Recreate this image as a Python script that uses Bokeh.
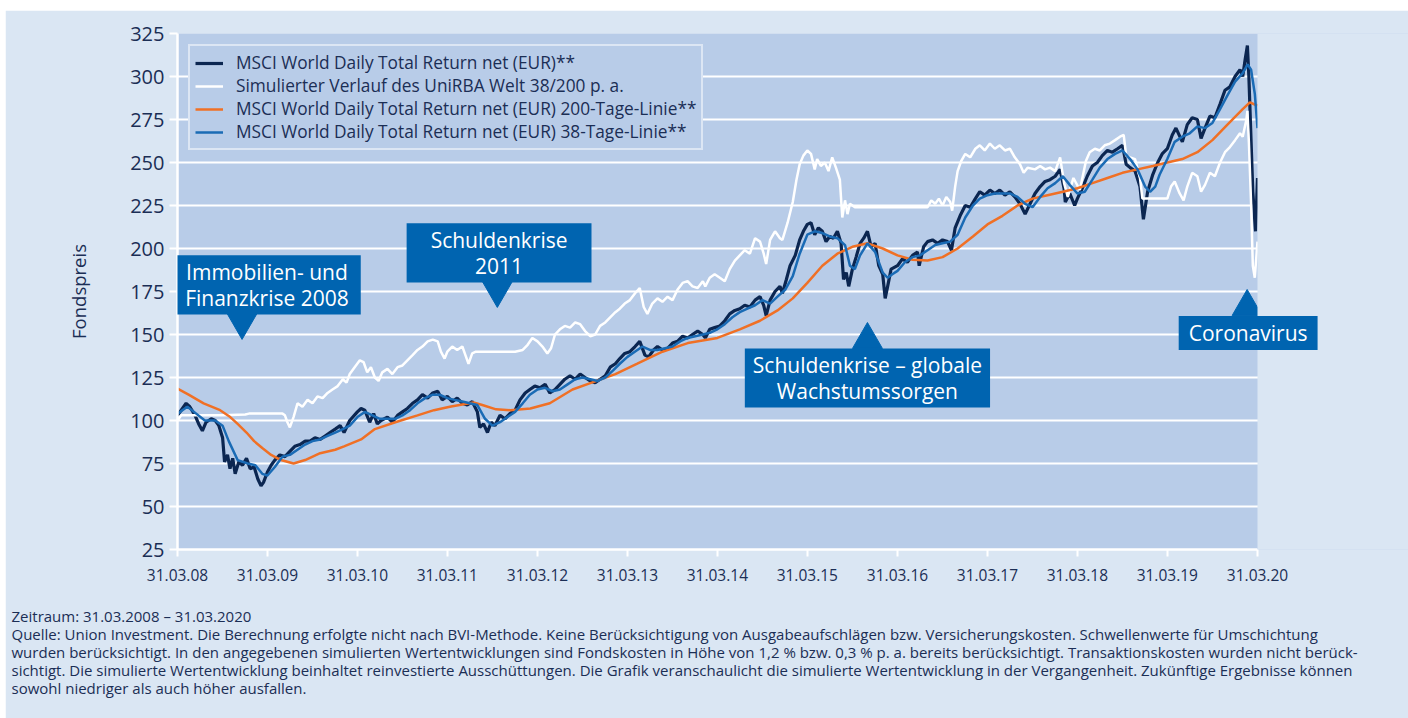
import pandas as pd
from bokeh.plotting import figure
from bokeh.models import (ColumnDataSource, Range1d, FixedTicker, DatetimeTickFormatter,
                          Legend, LegendItem, Label, BoxAnnotation, Title)
from bokeh.embed import file_html
from bokeh.resources import INLINE

FONT = "Open Sans"

# ---------------- data ----------------
msci = [
    ("2008-03-31", 103), ("2008-04-20", 107), ("2008-05-05", 110), ("2008-05-20", 108),
    ("2008-06-10", 103), ("2008-06-25", 98), ("2008-07-10", 94), ("2008-07-25", 99),
    ("2008-08-15", 101), ("2008-08-31", 100), ("2008-09-15", 97), ("2008-09-30", 90),
    ("2008-10-08", 76), ("2008-10-20", 80), ("2008-10-30", 72), ("2008-11-10", 78),
    ("2008-11-20", 69), ("2008-12-05", 76), ("2008-12-20", 74), ("2009-01-05", 78),
    ("2009-01-20", 72), ("2009-02-05", 73), ("2009-02-20", 66), ("2009-03-05", 62),
    ("2009-03-15", 64), ("2009-03-31", 70), ("2009-04-15", 74), ("2009-04-30", 77),
    ("2009-05-20", 80), ("2009-06-10", 79), ("2009-06-30", 82), ("2009-07-20", 85),
    ("2009-08-10", 86), ("2009-08-31", 88), ("2009-09-20", 88), ("2009-10-10", 90),
    ("2009-10-31", 89), ("2009-11-20", 91), ("2009-12-10", 93), ("2009-12-31", 95),
    ("2010-01-20", 97), ("2010-02-05", 93), ("2010-02-28", 100), ("2010-03-31", 105),
    ("2010-04-15", 107), ("2010-04-30", 106), ("2010-05-20", 99), ("2010-06-05", 104),
    ("2010-06-20", 98), ("2010-07-05", 100), ("2010-07-31", 102), ("2010-08-20", 99),
    ("2010-09-10", 103), ("2010-09-30", 105), ("2010-10-20", 107), ("2010-11-10", 110),
    ("2010-11-30", 112), ("2010-12-20", 115), ("2011-01-10", 113), ("2011-01-31", 116),
    ("2011-02-20", 117), ("2011-03-10", 112), ("2011-03-31", 114), ("2011-04-20", 111),
    ("2011-05-10", 113), ("2011-05-31", 110), ("2011-06-20", 109), ("2011-07-10", 111),
    ("2011-07-31", 105), ("2011-08-10", 96), ("2011-08-25", 98), ("2011-09-10", 93),
    ("2011-09-25", 99), ("2011-10-10", 97), ("2011-10-31", 103), ("2011-11-20", 101),
    ("2011-12-10", 104), ("2011-12-31", 106), ("2012-01-20", 112), ("2012-02-10", 116),
    ("2012-02-29", 118), ("2012-03-20", 120), ("2012-04-10", 119), ("2012-05-01", 121),
    ("2012-05-20", 116), ("2012-06-10", 118), ("2012-06-30", 121), ("2012-07-20", 124),
    ("2012-08-10", 126), ("2012-08-31", 124), ("2012-09-20", 127), ("2012-10-10", 125),
    ("2012-10-31", 123), ("2012-11-20", 122), ("2012-12-10", 124), ("2012-12-31", 126),
    ("2013-01-20", 131), ("2013-02-10", 133), ("2013-02-28", 136), ("2013-03-20", 139),
    ("2013-04-10", 140), ("2013-05-01", 143), ("2013-05-20", 146), ("2013-06-10", 138),
    ("2013-06-25", 137), ("2013-07-15", 141), ("2013-07-31", 143), ("2013-08-20", 141),
    ("2013-09-10", 142), ("2013-09-30", 145), ("2013-10-20", 146), ("2013-11-10", 149),
    ("2013-11-30", 148), ("2013-12-20", 150), ("2014-01-10", 152), ("2014-01-31", 150),
    ("2014-02-10", 148), ("2014-02-28", 153), ("2014-03-20", 154), ("2014-04-10", 155),
    ("2014-04-30", 158), ("2014-05-20", 162), ("2014-06-10", 164), ("2014-06-30", 165),
    ("2014-07-20", 167), ("2014-08-10", 166), ("2014-08-31", 170), ("2014-09-20", 172),
    ("2014-10-05", 167), ("2014-10-15", 161), ("2014-10-31", 170), ("2014-11-20", 175),
    ("2014-12-10", 178), ("2014-12-20", 174), ("2015-01-05", 182), ("2015-01-20", 190),
    ("2015-02-10", 196), ("2015-02-28", 205), ("2015-03-15", 210), ("2015-03-31", 214),
    ("2015-04-15", 215), ("2015-04-30", 208), ("2015-05-15", 212), ("2015-05-31", 210),
    ("2015-06-15", 204), ("2015-06-30", 207), ("2015-07-15", 206), ("2015-07-31", 210),
    ("2015-08-15", 203), ("2015-08-25", 182), ("2015-09-05", 186), ("2015-09-15", 178),
    ("2015-09-30", 188), ("2015-10-15", 195), ("2015-10-31", 203), ("2015-11-15", 206),
    ("2015-11-30", 210), ("2015-12-15", 201), ("2015-12-31", 203), ("2016-01-15", 190),
    ("2016-01-31", 185), ("2016-02-10", 171), ("2016-02-20", 178), ("2016-03-05", 188),
    ("2016-03-31", 190), ("2016-04-20", 194), ("2016-05-10", 192), ("2016-05-31", 196),
    ("2016-06-20", 198), ("2016-06-27", 190), ("2016-07-15", 201), ("2016-07-31", 204),
    ("2016-08-20", 205), ("2016-09-10", 203), ("2016-09-30", 205), ("2016-10-20", 204),
    ("2016-11-05", 199), ("2016-11-20", 212), ("2016-12-10", 219), ("2016-12-31", 225),
    ("2017-01-20", 224), ("2017-02-10", 229), ("2017-02-28", 233), ("2017-03-20", 231),
    ("2017-04-10", 234), ("2017-04-30", 232), ("2017-05-20", 234), ("2017-06-10", 231),
    ("2017-06-30", 233), ("2017-07-20", 230), ("2017-08-10", 226), ("2017-08-31", 220),
    ("2017-09-20", 226), ("2017-10-10", 232), ("2017-10-31", 236), ("2017-11-20", 239),
    ("2017-12-10", 240), ("2017-12-31", 242), ("2018-01-20", 246), ("2018-02-05", 235),
    ("2018-02-10", 227), ("2018-02-28", 232), ("2018-03-20", 225), ("2018-03-31", 229),
    ("2018-04-20", 235), ("2018-05-10", 242), ("2018-05-31", 248), ("2018-06-20", 250),
    ("2018-07-10", 254), ("2018-07-31", 257), ("2018-08-20", 256), ("2018-09-10", 258),
    ("2018-09-30", 260), ("2018-10-15", 249), ("2018-10-31", 247), ("2018-11-20", 245),
    ("2018-12-10", 236), ("2018-12-24", 217), ("2019-01-10", 233), ("2019-01-31", 243),
    ("2019-02-20", 250), ("2019-03-10", 255), ("2019-03-31", 258), ("2019-04-20", 266),
    ("2019-05-05", 270), ("2019-05-31", 262), ("2019-06-20", 272), ("2019-07-10", 276),
    ("2019-07-31", 275), ("2019-08-15", 264), ("2019-08-31", 270), ("2019-09-20", 277),
    ("2019-10-10", 276), ("2019-10-31", 284), ("2019-11-20", 292), ("2019-12-10", 294),
    ("2019-12-31", 300), ("2020-01-20", 304), ("2020-01-31", 300), ("2020-02-10", 310),
    ("2020-02-19", 318), ("2020-02-25", 300), ("2020-03-05", 262), ("2020-03-12", 233),
    ("2020-03-23", 210), ("2020-03-31", 241),
]

unirba = [
    ("2008-03-31", 100), ("2008-04-15", 103), ("2008-06-30", 103), ("2008-09-30", 103),
    ("2008-12-31", 103.5), ("2009-01-15", 104), ("2009-05-31", 104), ("2009-06-10", 103),
    ("2009-06-20", 99), ("2009-06-30", 96), ("2009-07-15", 102), ("2009-07-31", 110),
    ("2009-08-20", 108), ("2009-09-10", 112), ("2009-09-30", 110), ("2009-10-20", 114),
    ("2009-11-10", 113), ("2009-11-30", 116), ("2009-12-20", 118), ("2010-01-10", 120),
    ("2010-01-31", 124), ("2010-02-15", 122), ("2010-02-28", 127), ("2010-03-20", 131),
    ("2010-04-10", 135), ("2010-04-25", 134), ("2010-05-10", 128), ("2010-05-25", 131),
    ("2010-06-10", 125), ("2010-06-25", 123), ("2010-07-10", 128), ("2010-07-31", 130),
    ("2010-08-20", 127), ("2010-09-10", 131), ("2010-09-30", 132), ("2010-10-20", 135),
    ("2010-11-10", 138), ("2010-11-30", 141), ("2010-12-20", 143), ("2011-01-10", 146),
    ("2011-01-31", 147), ("2011-02-20", 146), ("2011-03-05", 140), ("2011-03-20", 136),
    ("2011-03-31", 140), ("2011-04-20", 143), ("2011-05-10", 141), ("2011-05-31", 143),
    ("2011-06-15", 137), ("2011-06-25", 133), ("2011-07-10", 139), ("2011-07-25", 140),
    ("2011-12-31", 140), ("2012-01-31", 141), ("2012-02-20", 144), ("2012-03-10", 148),
    ("2012-03-31", 146), ("2012-04-20", 143), ("2012-05-10", 139), ("2012-05-25", 142),
    ("2012-06-10", 150), ("2012-06-30", 153), ("2012-07-20", 155), ("2012-08-10", 154),
    ("2012-08-31", 157), ("2012-09-20", 156), ("2012-10-10", 152), ("2012-10-31", 149),
    ("2012-11-20", 150), ("2012-12-10", 155), ("2012-12-31", 157), ("2013-01-20", 160),
    ("2013-02-10", 163), ("2013-02-28", 165), ("2013-03-20", 168), ("2013-04-10", 170),
    ("2013-05-01", 174), ("2013-05-20", 177), ("2013-06-05", 166), ("2013-06-20", 162),
    ("2013-07-10", 168), ("2013-07-31", 171), ("2013-08-20", 169), ("2013-09-10", 172),
    ("2013-09-30", 170), ("2013-10-20", 176), ("2013-11-10", 180), ("2013-11-30", 181),
    ("2013-12-20", 178), ("2014-01-10", 177), ("2014-01-31", 181), ("2014-02-10", 178),
    ("2014-02-28", 183), ("2014-03-20", 185), ("2014-04-10", 183), ("2014-04-30", 181),
    ("2014-05-20", 188), ("2014-06-10", 193), ("2014-06-30", 196), ("2014-07-20", 199),
    ("2014-08-10", 197), ("2014-08-31", 206), ("2014-09-20", 204), ("2014-10-05", 197),
    ("2014-10-15", 191), ("2014-10-31", 205), ("2014-11-20", 210), ("2014-12-10", 206),
    ("2014-12-20", 205), ("2015-01-10", 215), ("2015-01-31", 227), ("2015-02-15", 240),
    ("2015-02-28", 249), ("2015-03-15", 254), ("2015-03-31", 257), ("2015-04-15", 255),
    ("2015-04-30", 246), ("2015-05-10", 252), ("2015-05-25", 248), ("2015-06-10", 250),
    ("2015-06-25", 245), ("2015-07-10", 253), ("2015-07-25", 247), ("2015-08-10", 240),
    ("2015-08-20", 218), ("2015-08-31", 228), ("2015-09-10", 220), ("2015-09-20", 226),
    ("2015-10-10", 224), ("2016-07-31", 224), ("2016-08-15", 228), ("2016-08-31", 226),
    ("2016-09-15", 229), ("2016-09-30", 225), ("2016-10-15", 230), ("2016-10-31", 227),
    ("2016-11-08", 222), ("2016-11-20", 236), ("2016-11-30", 245), ("2016-12-15", 251),
    ("2016-12-31", 255), ("2017-01-20", 253), ("2017-02-10", 258), ("2017-02-28", 260),
    ("2017-03-20", 257), ("2017-04-10", 261), ("2017-04-30", 258), ("2017-05-20", 260),
    ("2017-06-10", 257), ("2017-06-30", 258), ("2017-07-20", 253), ("2017-08-10", 249),
    ("2017-08-25", 244), ("2017-09-10", 247), ("2017-10-10", 246), ("2017-10-31", 248),
    ("2017-11-20", 246), ("2017-12-10", 247), ("2017-12-31", 245), ("2018-01-20", 253),
    ("2018-02-05", 238), ("2018-02-20", 230), ("2018-03-15", 241), ("2018-04-10", 234),
    ("2018-05-05", 251), ("2018-05-20", 256), ("2018-06-10", 258), ("2018-06-30", 257),
    ("2018-07-20", 260), ("2018-08-10", 261), ("2018-08-31", 263), ("2018-09-20", 265),
    ("2018-10-05", 266), ("2018-10-15", 254), ("2018-10-31", 253), ("2018-11-20", 252),
    ("2018-12-10", 241), ("2018-12-20", 229), ("2019-03-31", 229), ("2019-04-15", 236),
    ("2019-04-30", 239), ("2019-05-20", 232), ("2019-06-05", 228), ("2019-06-20", 236),
    ("2019-07-10", 244), ("2019-07-31", 242), ("2019-08-15", 233), ("2019-08-31", 237),
    ("2019-09-20", 244), ("2019-10-10", 242), ("2019-10-31", 250), ("2019-11-20", 256),
    ("2019-12-10", 259), ("2019-12-31", 263), ("2020-01-20", 267), ("2020-01-31", 265),
    ("2020-02-15", 275), ("2020-02-19", 280), ("2020-02-25", 262), ("2020-03-05", 226),
    ("2020-03-12", 190), ("2020-03-20", 183), ("2020-03-31", 204),
]

ma200 = [
    ("2008-03-31", 118.5), ("2008-05-15", 115), ("2008-07-15", 110), ("2008-09-20", 106),
    ("2008-10-31", 102), ("2008-11-30", 98), ("2009-01-05", 93), ("2009-02-05", 88),
    ("2009-03-10", 84), ("2009-04-15", 80), ("2009-05-25", 77), ("2009-07-15", 75),
    ("2009-08-31", 77), ("2009-10-31", 81), ("2009-12-31", 83), ("2010-02-05", 85),
    ("2010-04-15", 89), ("2010-06-10", 95), ("2010-09-01", 99), ("2010-11-30", 103),
    ("2011-02-05", 106), ("2011-04-10", 108), ("2011-07-15", 110.5), ("2011-08-20", 109),
    ("2011-10-15", 106.5), ("2011-12-12", 106), ("2012-03-02", 107), ("2012-05-20", 110),
    ("2012-08-20", 118), ("2012-11-06", 122), ("2013-02-10", 127), ("2013-05-10", 133),
    ("2013-08-20", 140), ("2013-12-01", 145), ("2014-03-31", 148), ("2014-06-30", 153),
    ("2014-09-20", 158), ("2014-11-30", 164), ("2015-01-31", 171), ("2015-03-31", 180),
    ("2015-05-31", 190), ("2015-07-31", 197), ("2015-09-30", 201), ("2015-11-30", 203),
    ("2016-01-31", 200), ("2016-03-31", 196), ("2016-05-31", 193.5), ("2016-07-31", 193),
    ("2016-09-30", 195), ("2016-11-30", 200), ("2017-01-31", 207), ("2017-03-31", 214),
    ("2017-05-31", 219), ("2017-07-31", 225), ("2017-09-30", 229), ("2017-11-30", 231),
    ("2018-01-31", 233), ("2018-03-31", 235), ("2018-05-31", 238), ("2018-07-31", 241),
    ("2018-09-30", 244), ("2018-11-30", 246), ("2019-01-31", 248), ("2019-03-31", 250),
    ("2019-05-31", 252), ("2019-07-31", 256), ("2019-09-30", 263), ("2019-11-30", 272),
    ("2020-01-31", 281), ("2020-02-29", 285), ("2020-03-31", 283),
]

ma38 = [
    ("2008-03-31", 104), ("2008-05-10", 108), ("2008-06-15", 104), ("2008-07-20", 100),
    ("2008-08-31", 100), ("2008-09-30", 97), ("2008-10-25", 88), ("2008-11-30", 77),
    ("2009-01-10", 75), ("2009-02-10", 74), ("2009-03-10", 69), ("2009-03-31", 68),
    ("2009-04-30", 73), ("2009-05-31", 79), ("2009-06-30", 80), ("2009-07-31", 83),
    ("2009-08-31", 86), ("2009-09-30", 88), ("2009-10-31", 89), ("2009-11-30", 91),
    ("2009-12-31", 93), ("2010-01-31", 95), ("2010-02-28", 97), ("2010-03-31", 102),
    ("2010-04-30", 105), ("2010-05-31", 103), ("2010-06-30", 101), ("2010-07-31", 101),
    ("2010-08-31", 101), ("2010-09-30", 103), ("2010-10-31", 106), ("2010-11-30", 110),
    ("2010-12-31", 113), ("2011-01-31", 115), ("2011-02-28", 115), ("2011-03-31", 113),
    ("2011-04-30", 112), ("2011-05-31", 111), ("2011-06-30", 110), ("2011-07-31", 109),
    ("2011-08-31", 101), ("2011-09-30", 97), ("2011-10-31", 99), ("2011-11-30", 102),
    ("2011-12-31", 105), ("2012-01-31", 110), ("2012-02-29", 115), ("2012-03-31", 118),
    ("2012-04-30", 119), ("2012-05-31", 117), ("2012-06-30", 118), ("2012-07-31", 121),
    ("2012-08-31", 124), ("2012-09-30", 125), ("2012-10-31", 124), ("2012-11-30", 123),
    ("2012-12-31", 125), ("2013-01-31", 129), ("2013-02-28", 133), ("2013-03-31", 137),
    ("2013-04-30", 140), ("2013-05-31", 143), ("2013-06-30", 141), ("2013-07-31", 141),
    ("2013-08-31", 142), ("2013-09-30", 143), ("2013-10-31", 146), ("2013-11-30", 148),
    ("2013-12-31", 149), ("2014-01-31", 150), ("2014-02-28", 151), ("2014-03-31", 153),
    ("2014-04-30", 156), ("2014-05-31", 160), ("2014-06-30", 163), ("2014-07-31", 165),
    ("2014-08-31", 167), ("2014-09-30", 170), ("2014-10-31", 168), ("2014-11-30", 172),
    ("2014-12-31", 176), ("2015-01-31", 184), ("2015-02-28", 197), ("2015-03-31", 208),
    ("2015-04-30", 210), ("2015-05-31", 209), ("2015-06-30", 207), ("2015-07-31", 206),
    ("2015-08-31", 202), ("2015-09-20", 190), ("2015-10-10", 188), ("2015-10-31", 196),
    ("2015-11-30", 203), ("2015-12-31", 198), ("2016-01-31", 186), ("2016-02-20", 183),
    ("2016-03-10", 185), ("2016-03-31", 187), ("2016-04-30", 192), ("2016-05-31", 195),
    ("2016-06-30", 196), ("2016-07-31", 199), ("2016-08-31", 202), ("2016-09-30", 203),
    ("2016-10-31", 204), ("2016-11-30", 208), ("2016-12-31", 218), ("2017-01-31", 225),
    ("2017-02-28", 229), ("2017-03-31", 231), ("2017-04-30", 232), ("2017-05-31", 232),
    ("2017-06-30", 232), ("2017-07-31", 230), ("2017-08-31", 226), ("2017-09-30", 224),
    ("2017-10-31", 230), ("2017-11-30", 235), ("2017-12-31", 238), ("2018-01-31", 242),
    ("2018-02-28", 237), ("2018-03-31", 232), ("2018-04-30", 233), ("2018-05-31", 240),
    ("2018-06-30", 247), ("2018-07-31", 252), ("2018-08-31", 255), ("2018-09-30", 257),
    ("2018-10-31", 252), ("2018-11-30", 246), ("2018-12-31", 236), ("2019-01-20", 233),
    ("2019-02-10", 236), ("2019-02-28", 243), ("2019-03-31", 252), ("2019-04-30", 262),
    ("2019-05-31", 265), ("2019-06-30", 267), ("2019-07-31", 271), ("2019-08-31", 270),
    ("2019-09-30", 273), ("2019-10-31", 281), ("2019-11-30", 289), ("2019-12-31", 297),
    ("2020-01-31", 302), ("2020-02-20", 307), ("2020-03-05", 304), ("2020-03-20", 290),
    ("2020-03-31", 270),
]

series_labels = [
    "MSCI World Daily Total Return net (EUR)**",
    "Simulierter Verlauf des UniRBA Welt 38/200 p. a.",
    "MSCI World Daily Total Return net (EUR) 200-Tage-Linie**",
    "MSCI World Daily Total Return net (EUR) 38-Tage-Linie**",
]

y_ticks = [25, 50, 75, 100, 125, 150, 175, 200, 225, 250, 275, 300, 325]
tick_dates = ["2008-03-31", "2009-03-31", "2010-03-31", "2011-03-31", "2012-03-31",
              "2013-03-31", "2014-03-31", "2015-03-31", "2016-03-31", "2017-03-31",
              "2018-03-31", "2019-03-31", "2020-03-31"]
tick_labels = ["31.03.08", "31.03.09", "31.03.10", "31.03.11", "31.03.12", "31.03.13",
               "31.03.14", "31.03.15", "31.03.16", "31.03.17", "31.03.18", "31.03.19",
               "31.03.20"]

ann_texts = ["Immobilien- und\nFinanzkrise 2008", "Schuldenkrise\n2011",
             "Schuldenkrise \u2013 globale\nWachstumssorgen", "Coronavirus"]
ann_box_dates = ["2009-03-29", "2011-10-27", "2015-11-30", "2020-02-22"]
ann_box_values = [178.8, 197.4, 124.7, 150.9]
ann_tip_dates = ["2008-12-18", "2011-10-20", "2015-11-30", "2020-02-18"]
ann_tip_values = [157.2, 175.8, 146.9, 166.1]
ann_tip_markers = ["inverted_triangle", "inverted_triangle", "triangle", "triangle"]

footer_text = "\n".join([
    "Zeitraum: 31.03.2008 \u2013 31.03.2020",
    "Quelle: Union Investment. Die Berechnung erfolgte nicht nach BVI-Methode. Keine Berücksichtigung von Ausgabeaufschlägen bzw. Versicherungskosten. Schwellenwerte für Umschichtung",
    "wurden berücksichtigt. In den angegebenen simulierten Wertentwicklungen sind Fondskosten in Höhe von 1,2 % bzw. 0,3 % p. a. bereits berücksichtigt. Transaktionskosten wurden nicht berück-",
    "sichtigt. Die simulierte Wertentwicklung beinhaltet reinvestierte Ausschüttungen. Die Grafik veranschaulicht die simulierte Wertentwicklung in der Vergangenheit. Zukünftige Ergebnisse können",
    "sowohl niedriger als auch höher ausfallen.",
])

# ---------------- styles ----------------
OUTER_BG = "#dae6f3"
PLOT_BG = "#b8cce8"
NAVY = "#0b2651"
ORANGE = "#f07025"
BLUE = "#1a6bb5"
BOX = "#0064b0"
TEXT = "#1b2e55"
ann_pad_x = [12, 24, 8, 10]


def to_ms(d):
    return pd.Timestamp(d).value / 1e6


def src(pairs):
    return ColumnDataSource(dict(x=pd.to_datetime([d for d, _ in pairs]),
                                 y=[v for _, v in pairs]))


x0, x1 = to_ms(tick_dates[0]), to_ms(tick_dates[-1])
# plot area is 1080 px wide; frame continues 151 px to the right (outside area)
x_end = x0 + (x1 - x0) * 1231.0 / 1080.0

p = figure(width=1403, height=708, x_axis_type="datetime",
           x_range=Range1d(x0, x_end), y_range=Range1d(y_ticks[0], y_ticks[-1]),
           output_backend="svg", toolbar_location=None, margin=(10, 0, 0, 5),
           min_border_left=172, min_border_right=0, min_border_top=23, min_border_bottom=168)

p.background_fill_color = PLOT_BG
p.border_fill_color = OUTER_BG
p.outline_line_color = None

p.xgrid.visible = False
p.ygrid.grid_line_color = "white"
p.ygrid.grid_line_width = 2

p.yaxis.ticker = FixedTicker(ticks=y_ticks)
p.xaxis.ticker = FixedTicker(ticks=[to_ms(d) for d in tick_dates])
p.xaxis.major_label_overrides = {to_ms(d): l for d, l in zip(tick_dates, tick_labels)}
fmt = "%d.%m.%y"
p.xaxis.formatter = DatetimeTickFormatter(days=fmt, months=fmt, years=fmt, hours=fmt,
                                          minutes=fmt, seconds=fmt, milliseconds=fmt,
                                          minsec=fmt, hourmin=fmt)
p.xaxis.bounds = (x0, x1)

for ax in (p.xaxis[0], p.yaxis[0]):
    ax.axis_line_color = "white"
    ax.axis_line_width = 2.5
    ax.major_tick_line_color = "white"
    ax.major_tick_line_width = 2
    ax.major_tick_in = 0
    ax.minor_tick_line_color = None
    ax.major_label_text_color = TEXT
    ax.major_label_text_font = FONT

p.yaxis.major_tick_out = 8
p.yaxis.major_label_standoff = 5
p.yaxis.major_label_text_font_size = "20px"
p.yaxis.axis_label = "Fondspreis"
p.yaxis.axis_label_text_font = FONT
p.yaxis.axis_label_text_font_size = "18.5px"
p.yaxis.axis_label_text_font_style = "normal"
p.yaxis.axis_label_text_color = TEXT
p.yaxis.axis_label_standoff = 36

p.xaxis.major_tick_out = 7
p.xaxis.major_label_standoff = 12
p.xaxis.major_label_text_font_size = "15.5px"

r1 = p.line("x", "y", source=src(msci), color=NAVY, line_width=3.2)
r2 = p.line("x", "y", source=src(unirba), color="white", line_width=2.5)
r3 = p.line("x", "y", source=src(ma200), color=ORANGE, line_width=2.5)
r4 = p.line("x", "y", source=src(ma38), color=BLUE, line_width=2.5)

# area right of the plot region keeps the page colour
p.add_layout(BoxAnnotation(left=x1, fill_color=OUTER_BG, fill_alpha=1, line_color=None))

legend = Legend(items=[LegendItem(label=l, renderers=[r]) for l, r in zip(series_labels, [r1, r2, r3, r4])],
                location="top_left", margin=11, padding=5, spacing=0, label_standoff=13,
                glyph_width=28, glyph_height=20, label_height=20,
                label_text_font=FONT, label_text_font_size="17.3px", label_text_color=TEXT,
                border_line_color="white", border_line_width=2,
                background_fill_color=PLOT_BG, background_fill_alpha=1)
p.add_layout(legend)

tri = ColumnDataSource(dict(x=pd.to_datetime(ann_tip_dates), y=ann_tip_values, m=ann_tip_markers))
p.scatter("x", "y", source=tri, marker="m", size=30, color=BOX, line_color=BOX)

for t, d, v, px in zip(ann_texts, ann_box_dates, ann_box_values, ann_pad_x):
    multi = "\n" in t
    p.add_layout(Label(x=to_ms(d), y=v, text=t, text_align="center", text_baseline="middle",
                       text_color="white", text_font=FONT, text_font_size="21px",
                       text_line_height=0.9 if multi else 1.0, background_fill_color=BOX,
                       padding=dict(left=px, right=px, top=3, bottom=3)))

p.add_layout(Title(text=footer_text, align="left", offset=-166, standoff=41,
                   text_font=FONT, text_font_size="15px", text_font_style="normal",
                   text_color=TEXT, text_line_height=0.9), "below")

open("out.html", "w").write(file_html(p, INLINE))
